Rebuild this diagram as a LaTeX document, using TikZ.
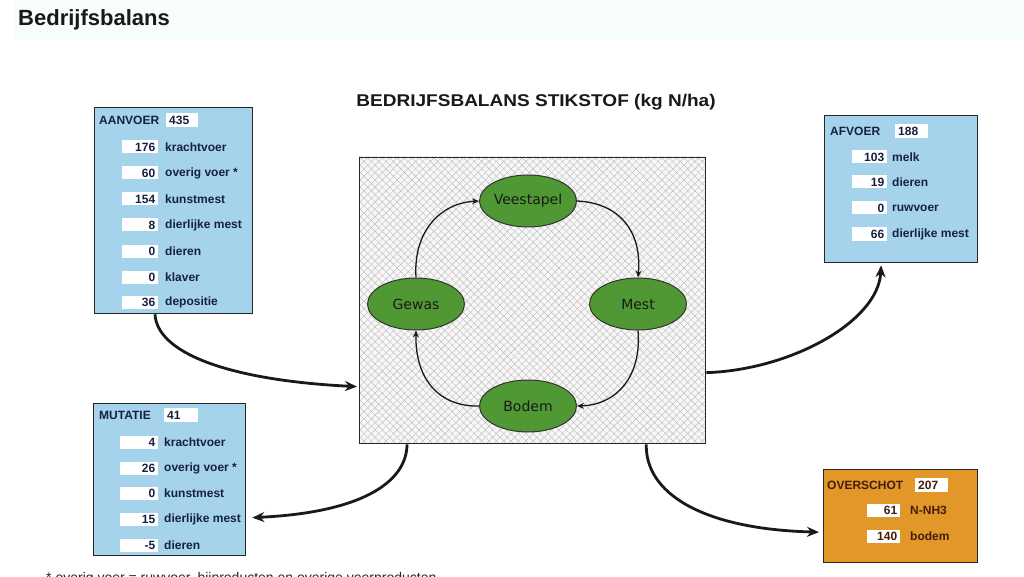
\documentclass[tikz,border=0pt]{standalone}
\usepackage{fontspec}
\setmainfont{Liberation Sans}
\newfontfamily\ellfont{DejaVu Sans}
\usetikzlibrary{arrows.meta,patterns.meta,shapes.geometric,calc}
\definecolor{boxblue}{RGB}{166,211,236}
\definecolor{boxorange}{RGB}{226,152,40}
\definecolor{ellgreen}{RGB}{80,152,52}
\definecolor{navytext}{RGB}{22,32,64}
\definecolor{browntext}{RGB}{70,28,12}
\definecolor{hatchgray}{RGB}{190,190,190}
\definecolor{hatchbg}{RGB}{247,247,247}
\definecolor{band}{RGB}{247,252,253}
\begin{document}
\begin{tikzpicture}[x=1pt,y=-1pt,
  panel/.style={draw=black!85, line width=1.3pt, inner sep=0pt, anchor=north west},
  lbl/.style={anchor=west, inner sep=0pt, font=\fontsize{12}{14}\selectfont\bfseries},
  val/.style={anchor=west, fill=white, inner ysep=0pt, inner xsep=3pt, minimum height=13pt,
              text width=#1, align=right, font=\fontsize{12}{14}\selectfont\bfseries},
  hval/.style={anchor=west, fill=white, inner ysep=0pt, inner xsep=3pt, minimum height=14pt,
              text width=#1, align=left, font=\fontsize{12}{14}\selectfont\bfseries},
  ell/.style={ellipse, draw=black!80, line width=1pt, fill=ellgreen, minimum width=97pt,
              minimum height=52pt, inner sep=0pt, font=\ellfont\fontsize{14}{16}\selectfont, text=black!90},
  cyc/.style={line width=1.3pt, black!90, -{Stealth[length=7pt,width=6pt]}},
  bigarrow/.style={line width=2.8pt, black!90, -{Stealth[length=12pt,width=10pt]}}
]
\useasboundingbox (0,0) rectangle (1024,577);
\clip (0,0) rectangle (1024,577);
\fill[white] (0,0) rectangle (1024,577);
\fill[band] (14,0) rectangle (1024,40);

% titles
\node[anchor=base west, inner sep=0pt, font=\fontsize{22}{26}\selectfont\bfseries, text=black!90] (title) at (18,26) {Bedrijfsbalans};
\node[anchor=base, inner sep=0pt, font=\fontsize{17}{20}\selectfont\bfseries, text=black!90] (head) at (536,107)
  {\scalebox{1.12}[1]{BEDRIJFSBALANS STIKSTOF (kg N/ha)}};

% centre panel
\fill[hatchbg] (359,157) rectangle (705,443);
\fill[pattern={Lines[angle=45,distance=5.2pt,line width=0.45pt]}, pattern color=hatchgray] (359,157) rectangle (705,443);
\fill[pattern={Lines[angle=-45,distance=5.2pt,line width=0.45pt]}, pattern color=hatchgray] (359,157) rectangle (705,443);
\node[panel, minimum width=346pt, minimum height=286pt] (ctr) at (359,157) {};

\node[ell] (vee) at (528,201) {Veestapel};
\node[ell] (gew) at (416,304) {Gewas};
\node[ell] (mest) at (638,304) {Mest};
\node[ell] (bod) at (528,406) {Bodem};

\draw[cyc] (gew.north) .. controls (413,232) and (440,203) .. (vee.west);
\draw[cyc] (vee.east) .. controls (620,203) and (642,232) .. (mest.north);
\draw[cyc] (mest.south) .. controls (642,378) and (615,405) .. (bod.east);
\draw[cyc] (bod.west) .. controls (440,407) and (415,380) .. (gew.south);

% AANVOER
\node[panel, fill=boxblue, minimum width=158pt, minimum height=206pt] (aan) at (94,107) {};
\begin{scope}[text=navytext]
\node[lbl] (aanh) at (99,120) {AANVOER};
\node[hval=26pt] (aanv) at (166,120) {435};
\foreach \y/\v/\t [count=\i] in {147/176/krachtvoer, 173/60/overig voer *, 199/154/kunstmest, 225/8/dierlijke mest, 251/0/dieren, 277/0/klaver, 302/36/depositie}{
  \node[val=30pt] (aanv\i) at (122,\y) {\v};
  \node[lbl] (aanl\i) at (165,\y) {\t};
}
\end{scope}

% MUTATIE
\node[panel, fill=boxblue, minimum width=152pt, minimum height=152pt] (mut) at (93,403) {};
\begin{scope}[text=navytext]
\node[lbl] (muth) at (99,415) {MUTATIE};
\node[hval=28pt] (mutv) at (164,415) {41};
\foreach \y/\v/\t [count=\i] in {442/4/krachtvoer, 468/26/overig voer *, 493/0/kunstmest, 519/15/dierlijke mest, 545/-5/dieren}{
  \node[val=32pt] (mutv\i) at (120,\y) {\v};
  \node[lbl] (mutl\i) at (164,\y) {\t};
}
\end{scope}

% AFVOER
\node[panel, fill=boxblue, minimum width=153pt, minimum height=147pt] (afv) at (824,115) {};
\begin{scope}[text=navytext]
\node[lbl] (afvh) at (830,131) {AFVOER};
\node[hval=27pt] (afvv) at (895,131) {188};
\foreach \y/\v/\t [count=\i] in {157/103/melk, 182/19/dieren, 208/0/ruwvoer, 234/66/dierlijke mest}{
  \node[val=29pt] (afvv\i) at (852,\y) {\v};
  \node[lbl] (afvl\i) at (892,\y) {\t};
}
\end{scope}

% OVERSCHOT
\node[panel, fill=boxorange, minimum width=154pt, minimum height=93pt] (ovs) at (823,469) {};
\begin{scope}[text=browntext]
\node[lbl] (ovsh) at (827,485) {OVERSCHOT};
\node[hval=27pt] (ovsv) at (915,485) {207};
\foreach \y/\v/\t [count=\i] in {510/61/N-NH3, 536/140/bodem}{
  \node[val=27pt] (ovsv\i) at (867,\y) {\v};
  \node[lbl] (ovsl\i) at (910,\y) {\t};
}
\end{scope}

% big arrows
\draw[bigarrow] ($(aan.south west)+(61,0)$) .. controls (157,352) and (225,380) .. ($(ctr.west)+(-2,86)$);
\draw[bigarrow] ($(ctr.south west)+(48,0)$) .. controls (407,478) and (370,512) .. ($(mut.east)+(6,38)$);
\draw[bigarrow] ($(ctr.east)+(0,72)$) .. controls (790,370) and (878,322) .. ($(afv.south)+(-20,2)$);
\draw[bigarrow] ($(ctr.south east)+(-60,0)$) .. controls (645,492) and (700,529) .. ($(ovs.west)+(-4,16)$);

% footnote (cut off at the lower edge, as in the reference)
\node[anchor=base west, inner sep=0pt, font=\fontsize{14}{16}\selectfont, text=black!85] (note) at (46,582)
  {* overig voer = ruwvoer, bijproducten en overige voerproducten};
\end{tikzpicture}
\end{document}
